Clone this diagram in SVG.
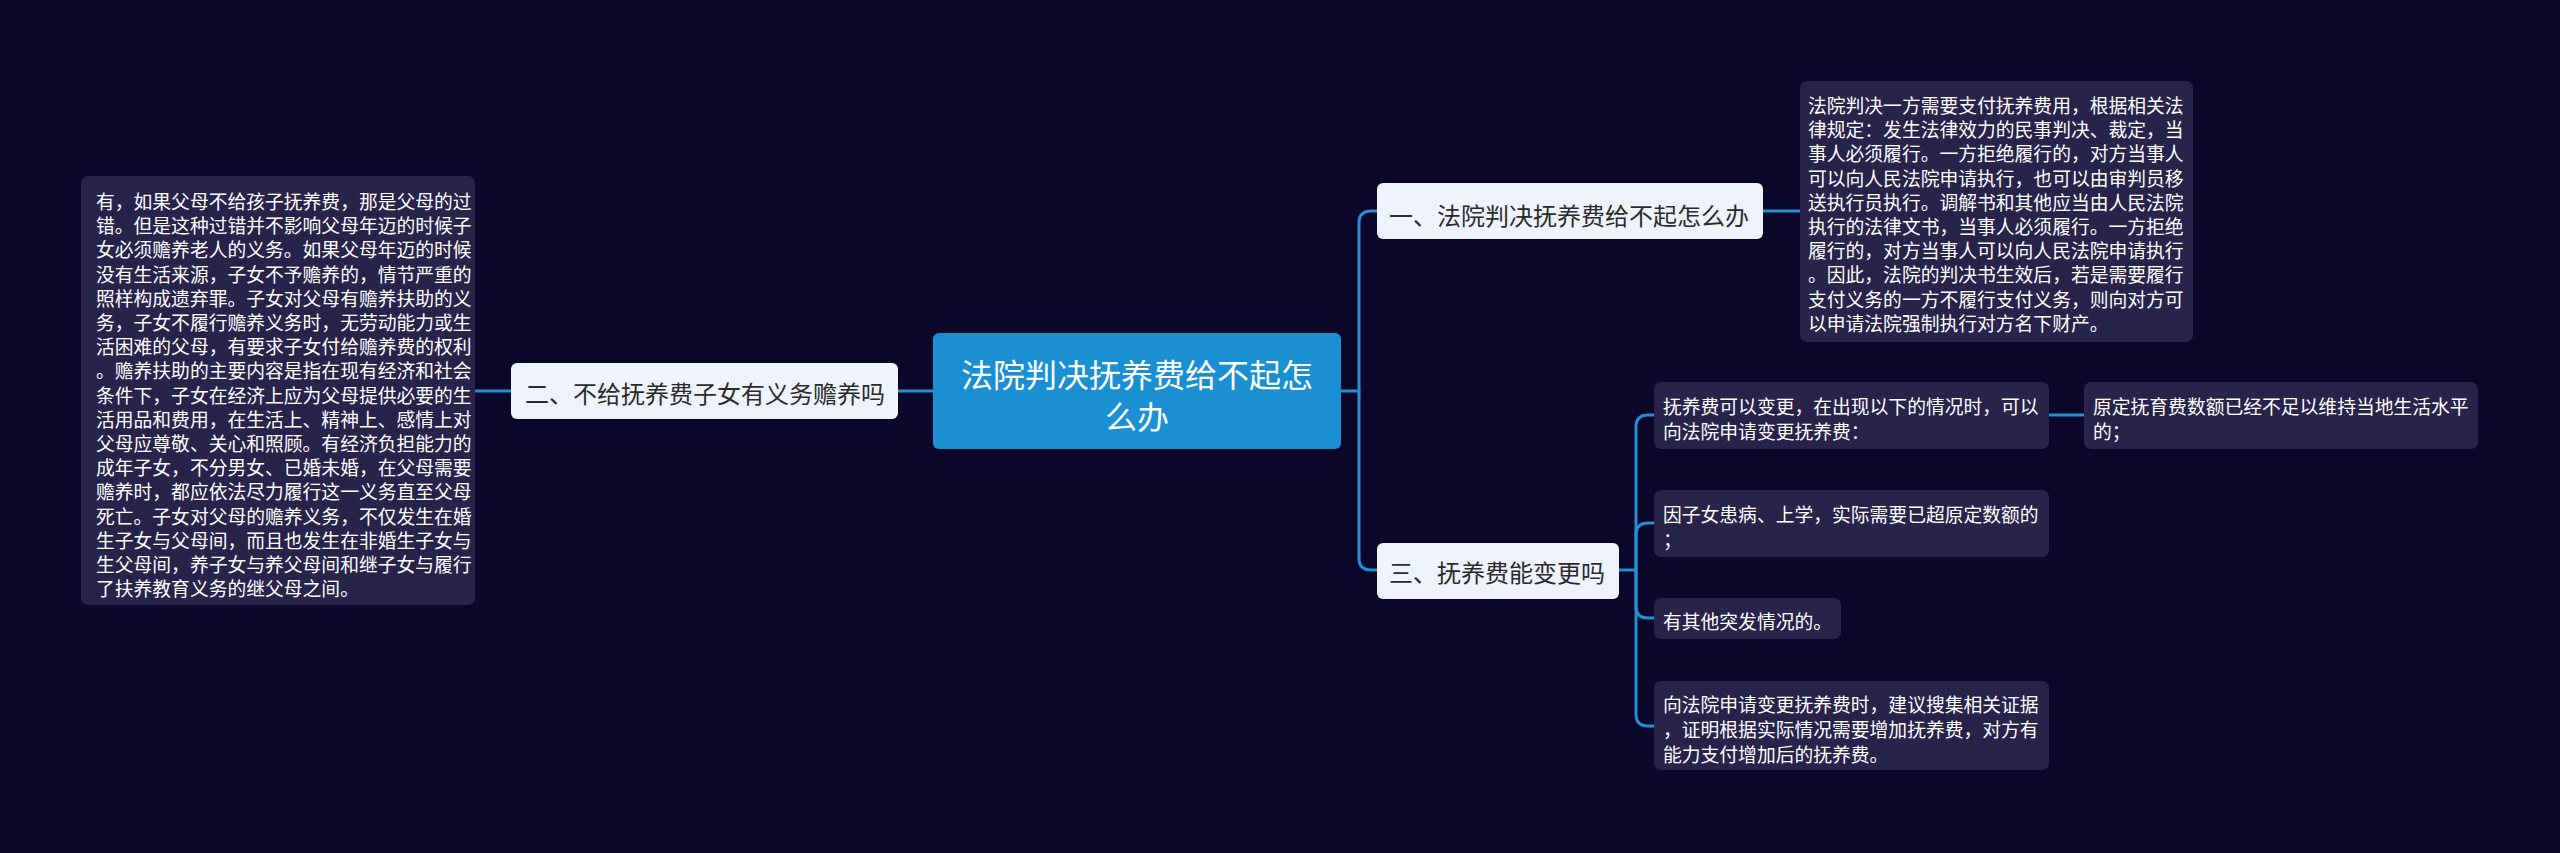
<svg xmlns="http://www.w3.org/2000/svg" width="2560" height="853" viewBox="0 0 2560 853">
<style>
.bg{fill:#0b072b}
.conn{fill:none;stroke:#2390d4;stroke-width:3}
.dark{fill:#27234b}
.light{fill:#eef3fc}
.root{fill:#1a90d2}
.t{font-family:"Noto Sans CJK SC","Noto Sans",sans-serif;dominant-baseline:central}
.tw{fill:#ffffff;font-size:18.8px}
.tb{fill:#2b2b2b;font-size:24px}
.tr{fill:#ffffff;font-size:32px}
</style>
<rect class="bg" x="0" y="0" width="2560" height="853"/>
<g id="connectors">
<path class="conn" d="M933,391 H898"/>
<path class="conn" d="M511,391 H475"/>
<path class="conn" d="M1341,391 H1359 V223 Q1359,211 1371,211 H1377"/>
<path class="conn" d="M1359,391 V558 Q1359,570 1371,570 H1377"/>
<path class="conn" d="M1763,211 H1800"/>
<path class="conn" d="M1619,570 H1636"/>
<path class="conn" d="M1636,570 V427 Q1636,415 1648,415 H1654"/>
<path class="conn" d="M1636,570 V535 Q1636,523 1648,523 H1654"/>
<path class="conn" d="M1636,570 V606 Q1636,618 1648,618 H1654"/>
<path class="conn" d="M1636,570 V714 Q1636,726 1648,726 H1654"/>
<path class="conn" d="M2049,415 H2084"/>
</g>
<g id="root">
<rect class="root" x="933" y="333" width="408" height="116" rx="6"/>
<text class="t tr" text-anchor="middle"><tspan x="1137" y="373">法院判决抚养费给不起怎</tspan><tspan x="1137" y="415">么办</tspan></text>
</g>
<g id="node-left">
<rect class="light" x="511" y="363" width="387" height="56" rx="6"/>
<text class="t tb" x="525" y="392">二、不给抚养费子女有义务赡养吗</text>
</g>
<g id="node-left-detail">
<rect class="dark" x="81" y="176" width="394" height="429" rx="7"/>
<text class="t tw">
<tspan x="96" y="200">有，如果父母不给孩子抚养费，那是父母的过</tspan>
<tspan x="96" y="224.2">错。但是这种过错并不影响父母年迈的时候子</tspan>
<tspan x="96" y="248.4">女必须赡养老人的义务。如果父母年迈的时候</tspan>
<tspan x="96" y="272.6">没有生活来源，子女不予赡养的，情节严重的</tspan>
<tspan x="96" y="296.8">照样构成遗弃罪。子女对父母有赡养扶助的义</tspan>
<tspan x="96" y="321">务，子女不履行赡养义务时，无劳动能力或生</tspan>
<tspan x="96" y="345.2">活困难的父母，有要求子女付给赡养费的权利</tspan>
<tspan x="96" y="369.4">。赡养扶助的主要内容是指在现有经济和社会</tspan>
<tspan x="96" y="393.6">条件下，子女在经济上应为父母提供必要的生</tspan>
<tspan x="96" y="417.8">活用品和费用，在生活上、精神上、感情上对</tspan>
<tspan x="96" y="442">父母应尊敬、关心和照顾。有经济负担能力的</tspan>
<tspan x="96" y="466.2">成年子女，不分男女、已婚未婚，在父母需要</tspan>
<tspan x="96" y="490.4">赡养时，都应依法尽力履行这一义务直至父母</tspan>
<tspan x="96" y="514.6">死亡。子女对父母的赡养义务，不仅发生在婚</tspan>
<tspan x="96" y="538.8">生子女与父母间，而且也发生在非婚生子女与</tspan>
<tspan x="96" y="563">生父母间，养子女与养父母间和继子女与履行</tspan>
<tspan x="96" y="587.2">了扶养教育义务的继父母之间。</tspan>
</text>
</g>
<g id="node-1">
<rect class="light" x="1377" y="183" width="386" height="56" rx="6"/>
<text class="t tb" x="1389" y="214">一、法院判决抚养费给不起怎么办</text>
</g>
<g id="node-1-detail">
<rect class="dark" x="1800" y="81" width="393" height="261" rx="7"/>
<text class="t tw">
<tspan x="1808" y="104">法院判决一方需要支付抚养费用，根据相关法</tspan>
<tspan x="1808" y="128.2">律规定：发生法律效力的民事判决、裁定，当</tspan>
<tspan x="1808" y="152.4">事人必须履行。一方拒绝履行的，对方当事人</tspan>
<tspan x="1808" y="176.6">可以向人民法院申请执行，也可以由审判员移</tspan>
<tspan x="1808" y="200.8">送执行员执行。调解书和其他应当由人民法院</tspan>
<tspan x="1808" y="225">执行的法律文书，当事人必须履行。一方拒绝</tspan>
<tspan x="1808" y="249.2">履行的，对方当事人可以向人民法院申请执行</tspan>
<tspan x="1808" y="273.4">。因此，法院的判决书生效后，若是需要履行</tspan>
<tspan x="1808" y="297.6">支付义务的一方不履行支付义务，则向对方可</tspan>
<tspan x="1808" y="321.8">以申请法院强制执行对方名下财产。</tspan>
</text>
</g>
<g id="node-3">
<rect class="light" x="1377" y="543" width="242" height="56" rx="6"/>
<text class="t tb" x="1389" y="571">三、抚养费能变更吗</text>
</g>
<g id="node-3-1">
<rect class="dark" x="1654" y="382" width="395" height="67" rx="7"/>
<text class="t tw"><tspan x="1663" y="405">抚养费可以变更，在出现以下的情况时，可以</tspan><tspan x="1663" y="430">向法院申请变更抚养费：</tspan></text>
</g>
<g id="node-3-1-1">
<rect class="dark" x="2084" y="382" width="394" height="67" rx="7"/>
<text class="t tw"><tspan x="2093" y="405">原定抚育费数额已经不足以维持当地生活水平</tspan><tspan x="2093" y="430">的；</tspan></text>
</g>
<g id="node-3-2">
<rect class="dark" x="1654" y="490" width="395" height="67" rx="7"/>
<text class="t tw"><tspan x="1663" y="513">因子女患病、上学，实际需要已超原定数额的</tspan><tspan x="1663" y="538">；</tspan></text>
</g>
<g id="node-3-3">
<rect class="dark" x="1654" y="598" width="187" height="41" rx="7"/>
<text class="t tw" x="1663" y="620">有其他突发情况的。</text>
</g>
<g id="node-3-4">
<rect class="dark" x="1654" y="681" width="395" height="89" rx="7"/>
<text class="t tw"><tspan x="1663" y="703">向法院申请变更抚养费时，建议搜集相关证据</tspan><tspan x="1663" y="728">，证明根据实际情况需要增加抚养费，对方有</tspan><tspan x="1663" y="753">能力支付增加后的抚养费。</tspan></text>
</g>
</svg>
